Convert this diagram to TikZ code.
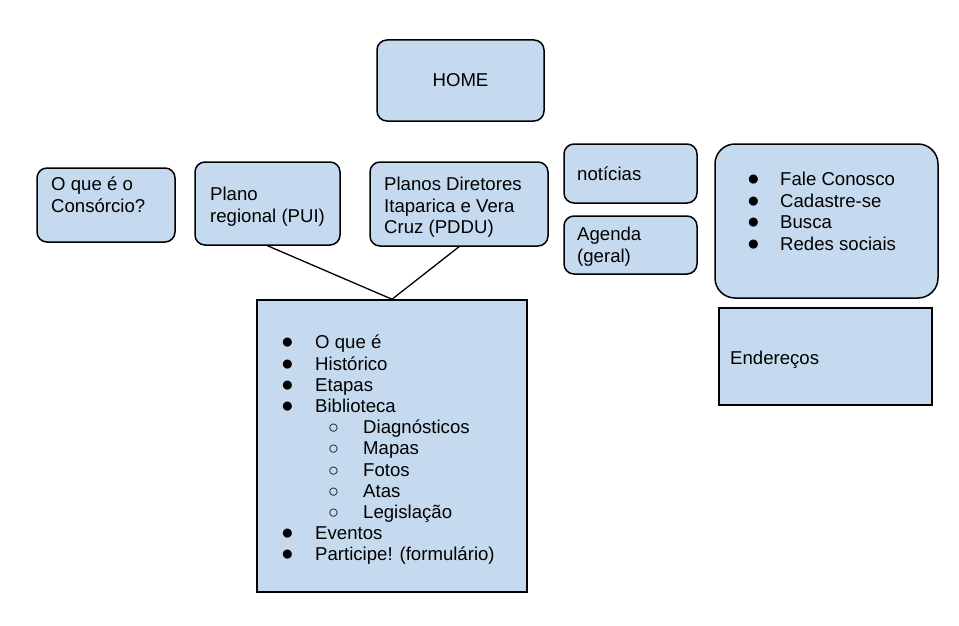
\documentclass[tikz,border=0pt]{standalone}
\usepackage{fontspec}
\setmainfont{Liberation Sans}
\definecolor{boxblue}{RGB}{198,218,239}
% list markers
\newcommand{\bul}{\makebox[34pt][l]{\fontsize{21}{12}\selectfont ●}}
\newcommand{\fbul}{\makebox[33pt][l]{\fontsize{21}{12}\selectfont ●}}
\newcommand{\sbul}{\hspace{47pt}\makebox[35pt][l]{\fontsize{18}{11}\selectfont ○}}

\begin{document}
\begin{tikzpicture}[x=1pt,y=-1pt,
    box/.style={draw, fill=boxblue, line width=1.5pt, rounded corners=10pt, inner sep=0,
                font=\fontsize{18.6}{21.6}\selectfont},
    sqbox/.style={draw, fill=boxblue, line width=1.5pt, inner sep=0},
    txt/.style={anchor=north west, inner sep=0, align=left,
                font=\fontsize{18.6}{21.6}\selectfont, execute at begin node=\strut}]
    \useasboundingbox (0,0) rectangle (959,626);

    % boxes
    \node[box, minimum width=167pt, minimum height=81pt] (home) at (460.5,80.5) {HOME};
    \node[box, minimum width=138pt, minimum height=74pt] (consorcio) at (106,205) {};
    \node[box, minimum width=145pt, minimum height=83pt] (pui) at (267.5,203.5) {};
    \node[box, minimum width=178pt, minimum height=84pt] (pddu) at (459,204) {};
    \node[box, minimum width=133pt, minimum height=59pt] (noticias) at (630.5,173.5) {};
    \node[box, minimum width=133pt, minimum height=58pt] (agenda) at (630.5,245) {};
    \node[box, rounded corners=20pt, minimum width=223pt, minimum height=154pt] (contato) at (826.5,221) {};
    \node[sqbox, minimum width=213pt, minimum height=97pt] (enderecos) at (825.5,356.5) {};
    \node[sqbox, minimum width=270pt, minimum height=292pt] (lista) at (392,446) {};

    % texts
    \node[txt] (consorcio-t) at (51,177) {O que é o\\Consórcio?};
    \node[txt] (pui-t) at (210,187) {Plano\\regional (PUI)};
    \node[txt] (pddu-t) at (384,177) {Planos Diretores\\Itaparica e Vera\\Cruz (PDDU)};
    \node[txt] (noticias-t) at (577,165) {notícias};
    \node[txt] (agenda-t) at (577,227) {Agenda\\(geral)};
    \node[txt] (enderecos-t) at (730,349) {Endereços};
    \node[txt] (contato-t) at (747,172) {\fbul Fale Conosco\\\fbul Cadastre-se\\\fbul Busca\\\fbul Redes sociais};
    \node[txt, font=\fontsize{18.6}{21.2}\selectfont] (lista-t) at (281,335) {\bul O que é\\\bul Histórico\\\bul Etapas\\\bul Biblioteca\\
        \sbul Diagnósticos\\\sbul Mapas\\\sbul Fotos\\\sbul Atas\\\sbul Legislação\\
        \bul Eventos\\\bul Participe! (formulário)};

    % connectors
    \draw[line width=1.3pt] (pui.south) -- (lista.north);
    \draw[line width=1.3pt] (pddu.south) -- (lista.north);
\end{tikzpicture}
\end{document}
